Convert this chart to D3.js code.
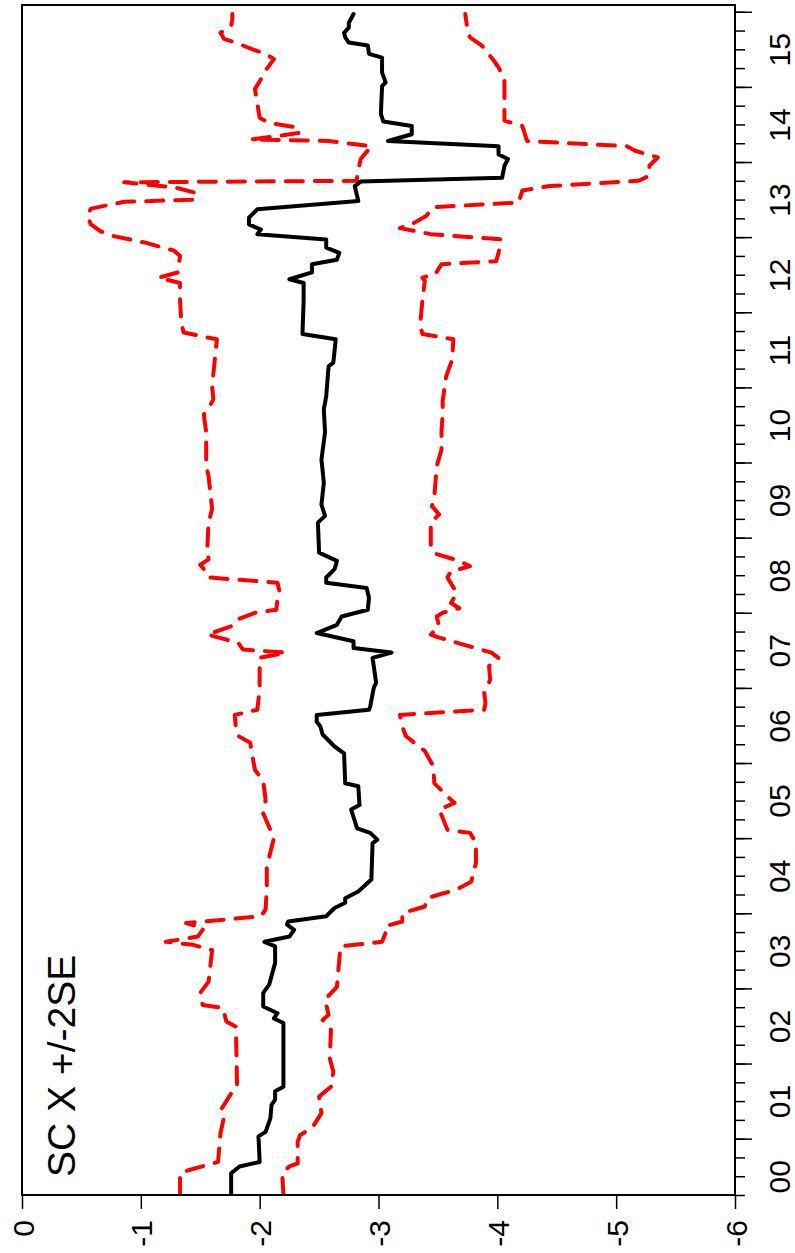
<!DOCTYPE html>
<html>
<head>
<meta charset="utf-8">
<script src="https://cdn.jsdelivr.net/npm/d3@7"></script>
<style>
  html, body { margin: 0; padding: 0; background: #fff; }
  svg { display: block; }
  text { font-family: "Liberation Sans", Arial, Helvetica, sans-serif; }
</style>
</head>
<body>
<script>
// ---- DATA (time as decimal year, value) ----
const yearLabels = ["00","01","02","03","04","05","06","07","08","09","10","11","12","13","14","15"];
const valueTicks = [0, -1, -2, -3, -4, -5, -6];
const titleText = "SC X +/-2SE";

const estimate = [
 [2000.25,-1.76],[2000.54,-1.76],[2000.63,-1.83],[2000.69,-2.00],[2001.03,-1.99],[2001.09,-2.05],
 [2001.27,-2.09],[2001.45,-2.10],[2001.52,-2.13],[2001.63,-2.13],[2001.69,-2.20],[2002.54,-2.20],
 [2002.60,-2.12],[2002.67,-2.15],[2002.76,-2.03],[2002.94,-2.03],[2003.05,-2.08],[2003.34,-2.13],
 [2003.56,-2.13],[2003.62,-2.04],[2003.69,-2.25],[2003.78,-2.29],[2003.85,-2.23],[2003.89,-2.24],
 [2003.96,-2.56],[2004.07,-2.63],[2004.14,-2.72],[2004.20,-2.72],[2004.29,-2.83],[2004.45,-2.94],
 [2004.93,-2.95],[2004.98,-2.99],[2005.07,-2.93],[2005.13,-2.82],[2005.38,-2.77],[2005.44,-2.84],
 [2005.69,-2.83],[2005.73,-2.72],[2006.13,-2.71],[2006.22,-2.63],[2006.38,-2.53],[2006.49,-2.51],
 [2006.55,-2.48],[2006.64,-2.48],[2006.71,-2.92],[2006.75,-2.93],[2007.00,-2.96],[2007.07,-2.98],
 [2007.40,-2.95],[2007.47,-3.11],[2007.53,-2.79],[2007.62,-2.79],[2007.73,-2.48],[2007.84,-2.65],
 [2007.95,-2.69],[2008.04,-2.91],[2008.20,-2.92],[2008.33,-2.90],[2008.40,-2.56],[2008.47,-2.56],
 [2008.58,-2.63],[2008.69,-2.65],[2008.80,-2.50],[2009.20,-2.49],[2009.29,-2.55],[2009.44,-2.52],
 [2009.73,-2.54],[2010.04,-2.52],[2010.40,-2.55],[2010.71,-2.54],[2010.88,-2.56],[2011.28,-2.58],
 [2011.33,-2.62],[2011.64,-2.64],[2011.71,-2.36],[2012.15,-2.37],[2012.39,-2.37],[2012.44,-2.25],
 [2012.53,-2.44],[2012.64,-2.44],[2012.70,-2.65],[2012.79,-2.67],[2012.86,-2.56],[2012.97,-2.56],
 [2013.04,-1.98],[2013.10,-2.01],[2013.17,-1.91],[2013.26,-1.91],[2013.37,-1.98],[2013.48,-2.83],
 [2013.68,-2.80],[2013.74,-2.85],[2013.79,-4.04],[2013.95,-4.06],[2014.04,-4.09],[2014.10,-4.01],
 [2014.21,-4.01],[2014.28,-3.08],[2014.37,-3.28],[2014.48,-3.28],[2014.54,-3.04],[2014.64,-3.02],
 [2015.01,-3.03],[2015.06,-3.06],[2015.19,-3.03],[2015.39,-3.03],[2015.44,-2.92],[2015.55,-2.91],
 [2015.59,-2.75],[2015.66,-2.72],[2015.72,-2.71],[2015.79,-2.75],[2015.85,-2.75],[2015.97,-2.79]
];

const upperBand = [
 [2000.25,-1.33],[2000.54,-1.33],[2000.58,-1.40],[2000.69,-1.65],[2001.07,-1.67],[2001.29,-1.70],
 [2001.40,-1.68],[2001.60,-1.76],[2001.69,-1.81],[2002.49,-1.80],[2002.56,-1.72],[2002.74,-1.69],
 [2002.78,-1.52],[2002.94,-1.50],[2003.09,-1.57],[2003.51,-1.60],[2003.58,-1.44],[2003.62,-1.21],
 [2003.69,-1.48],[2003.80,-1.53],[2003.87,-1.38],[2003.96,-2.01],[2004.05,-2.05],[2004.34,-2.06],
 [2004.62,-2.06],[2005.00,-2.12],[2005.11,-2.09],[2005.33,-2.03],[2005.51,-2.05],[2005.76,-2.03],
 [2005.91,-1.96],[2006.27,-1.92],[2006.36,-1.82],[2006.47,-1.80],[2006.64,-1.79],[2006.71,-1.98],
 [2006.98,-2.00],[2007.40,-2.00],[2007.47,-2.22],[2007.51,-1.86],[2007.60,-1.82],[2007.71,-1.56],
 [2007.82,-1.76],[2007.91,-1.81],[2008.00,-1.96],[2008.04,-2.14],[2008.18,-2.15],[2008.26,-2.17],
 [2008.40,-2.15],[2008.47,-1.57],[2008.58,-1.53],[2008.64,-1.50],[2008.71,-1.57],[2008.89,-1.56],
 [2009.20,-1.57],[2009.38,-1.60],[2009.82,-1.57],[2009.95,-1.55],[2010.40,-1.55],[2010.64,-1.53],
 [2010.75,-1.58],[2010.84,-1.61],[2011.02,-1.60],[2011.33,-1.62],[2011.64,-1.64],[2011.73,-1.36],
 [2011.86,-1.34],[2012.17,-1.33],[2012.39,-1.33],[2012.46,-1.15],[2012.53,-1.31],[2012.75,-1.33],
 [2012.82,-1.28],[2012.93,-1.03],[2013.01,-0.78],[2013.08,-0.66],[2013.17,-0.58],[2013.28,-0.55],
 [2013.38,-0.58],[2013.47,-0.86],[2013.50,-1.46],[2013.59,-1.46],[2013.66,-1.29],[2013.73,-0.86],
 [2013.75,-2.82],[2013.82,-2.82],[2014.04,-2.85],[2014.21,-2.94],[2014.28,-2.58],[2014.30,-1.93],
 [2014.35,-2.17],[2014.39,-2.34],[2014.46,-2.31],[2014.52,-2.08],[2014.59,-2.00],[2014.97,-1.96],
 [2015.10,-2.01],[2015.24,-2.06],[2015.37,-2.12],[2015.44,-2.05],[2015.50,-1.94],[2015.57,-1.83],
 [2015.64,-1.70],[2015.72,-1.67],[2015.81,-1.76],[2015.90,-1.77],[2015.97,-1.77]
];

const lowerBand = [
 [2000.25,-2.20],[2000.54,-2.19],[2000.63,-2.25],[2000.67,-2.32],[2000.96,-2.32],[2001.05,-2.34],
 [2001.14,-2.44],[2001.34,-2.52],[2001.56,-2.50],[2001.69,-2.60],[2001.89,-2.62],[2002.07,-2.59],
 [2002.45,-2.60],[2002.58,-2.53],[2002.65,-2.58],[2002.85,-2.55],[2003.02,-2.65],[2003.56,-2.68],
 [2003.62,-3.03],[2003.74,-3.06],[2003.83,-3.06],[2003.89,-3.20],[2004.00,-3.20],[2004.09,-3.39],
 [2004.20,-3.41],[2004.25,-3.51],[2004.31,-3.65],[2004.42,-3.78],[2004.67,-3.82],[2004.94,-3.82],
 [2005.07,-3.77],[2005.11,-3.58],[2005.27,-3.54],[2005.38,-3.51],[2005.47,-3.64],[2005.51,-3.61],
 [2005.73,-3.47],[2005.96,-3.46],[2006.16,-3.39],[2006.27,-3.30],[2006.36,-3.23],[2006.49,-3.20],
 [2006.64,-3.18],[2006.71,-3.89],[2006.80,-3.90],[2006.93,-3.89],[2007.11,-3.94],[2007.29,-3.93],
 [2007.40,-4.01],[2007.47,-3.95],[2007.56,-3.75],[2007.67,-3.51],[2007.71,-3.44],[2007.82,-3.51],
 [2007.95,-3.49],[2008.00,-3.54],[2008.06,-3.68],[2008.13,-3.61],[2008.26,-3.66],[2008.47,-3.58],
 [2008.55,-3.61],[2008.62,-3.77],[2008.69,-3.68],[2008.79,-3.47],[2008.87,-3.44],[2009.20,-3.44],
 [2009.31,-3.51],[2009.42,-3.45],[2009.55,-3.47],[2009.95,-3.49],[2010.17,-3.53],[2010.40,-3.53],
 [2010.66,-3.54],[2010.82,-3.54],[2011.15,-3.57],[2011.37,-3.62],[2011.64,-3.63],[2011.71,-3.37],
 [2011.82,-3.35],[2012.17,-3.37],[2012.42,-3.39],[2012.46,-3.37],[2012.51,-3.48],[2012.64,-3.53],
 [2012.68,-3.99],[2012.79,-4.01],[2012.97,-4.03],[2013.04,-3.44],[2013.12,-3.18],[2013.19,-3.30],
 [2013.28,-3.40],[2013.40,-3.46],[2013.46,-4.18],[2013.62,-4.21],[2013.68,-4.44],[2013.75,-5.19],
 [2013.82,-5.28],[2013.95,-5.28],[2014.06,-5.35],[2014.15,-5.16],[2014.21,-5.09],[2014.28,-4.25],
 [2014.48,-4.21],[2014.55,-4.06],[2014.83,-4.06],[2015.10,-4.06],[2015.26,-4.01],[2015.35,-3.97],
 [2015.55,-3.87],[2015.66,-3.77],[2015.75,-3.75],[2015.97,-3.73]
];

// ---- LAYOUT ----
const W = 795, H = 1253;
const plot = { left: 22, right: 735, top: 5, bottom: 1195 };

const svg = d3.select("body").append("svg").attr("width", W).attr("height", H);

// time runs bottom -> top, values run left (0) -> right (-6)
const yT = d3.scaleLinear().domain([2000.25, 2016.09]).range([plot.bottom, plot.top]);
const xV = d3.scaleLinear().domain([0, -6]).range([plot.left, plot.right]);

// clip
svg.append("clipPath").attr("id", "clip").append("rect")
  .attr("x", plot.left).attr("y", plot.top)
  .attr("width", plot.right - plot.left).attr("height", plot.bottom - plot.top);

const line = d3.line().x(d => xV(d[1])).y(d => yT(d[0]));

const g = svg.append("g").attr("clip-path", "url(#clip)");
g.append("path").datum(upperBand).attr("d", line)
  .attr("fill", "none").attr("stroke", "#ff0000").attr("stroke-width", 4)
  .attr("stroke-dasharray", "17,12").attr("stroke-linecap", "round").attr("stroke-linejoin", "round");
g.append("path").datum(lowerBand).attr("d", line)
  .attr("fill", "none").attr("stroke", "#ff0000").attr("stroke-width", 4)
  .attr("stroke-dasharray", "17,12").attr("stroke-linecap", "round").attr("stroke-linejoin", "round");
g.append("path").datum(estimate).attr("d", line)
  .attr("fill", "none").attr("stroke", "#000").attr("stroke-width", 4)
  .attr("stroke-linejoin", "round").attr("stroke-linecap", "round");

// frame
svg.append("rect").attr("x", plot.left).attr("y", plot.top)
  .attr("width", plot.right - plot.left).attr("height", plot.bottom - plot.top)
  .attr("fill", "none").attr("stroke", "#000").attr("stroke-width", 2);

// right (time) axis
const quarters = d3.range(2000.25, 2016.01, 0.25).map(v => +v.toFixed(2));
const years = d3.range(2001, 2017);
const mids = yearLabels.map((s, i) => 2000.5 + i);

const minorAx = svg.append("g").attr("transform", `translate(${plot.right},0)`)
  .call(d3.axisRight(yT).tickValues(quarters).tickSize(10).tickFormat(""));
minorAx.select(".domain").remove();
const majorAx = svg.append("g").attr("transform", `translate(${plot.right},0)`)
  .call(d3.axisRight(yT).tickValues(years).tickSize(17).tickFormat(""));
majorAx.select(".domain").remove();
svg.selectAll(".tick line").attr("stroke-width", 1.5);

const labAx = svg.append("g").attr("transform", `translate(${plot.right},0)`)
  .call(d3.axisRight(yT).tickValues(mids).tickSize(0).tickFormat((d, i) => yearLabels[i]));
labAx.select(".domain").remove();
labAx.selectAll("text")
  .attr("x", null).attr("dy", null)
  .attr("transform", "translate(55,0) rotate(-90)")
  .attr("text-anchor", "middle")
  .attr("font-size", 30).attr("fill", "#000")
  .style("font-family", '"Liberation Sans", Arial, sans-serif');

// bottom (value) axis
const botAx = svg.append("g").attr("transform", `translate(0,${plot.bottom})`)
  .call(d3.axisBottom(xV).tickValues(valueTicks).tickSize(14).tickFormat(d => String(d)));
botAx.select(".domain").remove();
botAx.selectAll(".tick line").attr("stroke-width", 1.5);
botAx.selectAll("text")
  .attr("x", null).attr("y", null).attr("dy", null)
  .attr("transform", "translate(11,25) rotate(-90)")
  .attr("text-anchor", "end")
  .attr("font-size", 30).attr("fill", "#000")
  .style("font-family", '"Liberation Sans", Arial, sans-serif');

// title label inside plot
svg.append("text")
  .attr("transform", "translate(75,1177) rotate(-90)")
  .attr("text-anchor", "start")
  .attr("font-size", 39)
  .attr("fill", "#000")
  .text(titleText);
</script>
</body>
</html>
